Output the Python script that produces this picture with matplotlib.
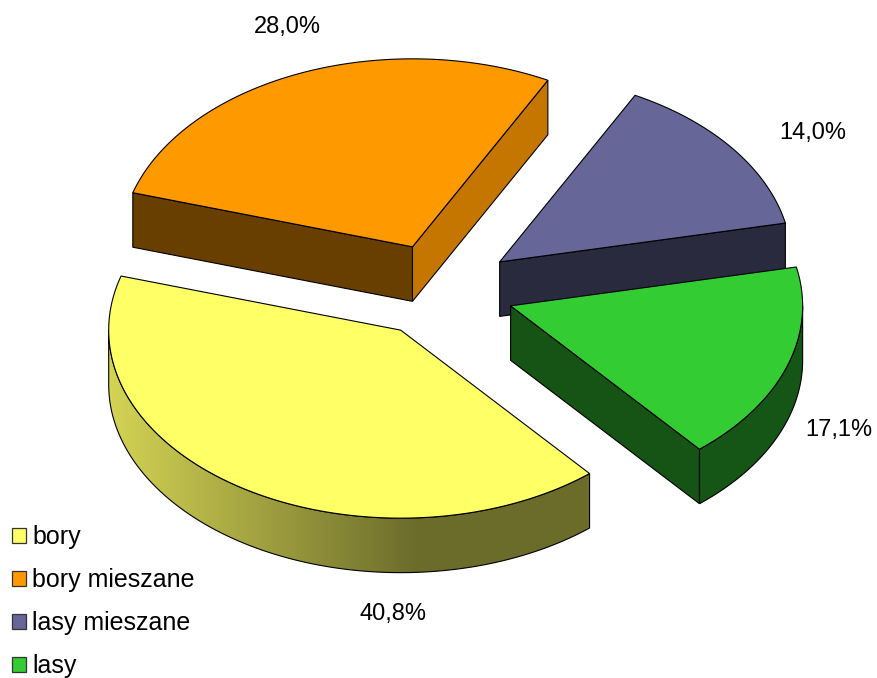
import numpy as np
import matplotlib
matplotlib.use("Agg")
import matplotlib.pyplot as plt
from matplotlib.patches import Polygon, Rectangle

plt.rcParams["font.family"] = ["Liberation Sans", "DejaVu Sans"]

labels = ["bory", "bory mieszane", "lasy mieszane", "lasy"]
values = [40.8, 28.0, 14.0, 17.1]
colors = ["#FFFF66", "#FF9900", "#666699", "#33CC33"]

# layout of the 3d pie (pixels)
CX, CY = 441, 290.5
A, B = 292, 188
DEPTH = 54.5
EXPLODE = 0.252
START = 310.3  # first slice starts here and goes clockwise

label_xy = [(393, 614), (287, 27), (813, 133), (839, 430)]


def shade(color, f):
    rgb = np.array(matplotlib.colors.to_rgb(color))
    return rgb * f


def rim(cx, cy, t0, t1, n=200):
    t = np.radians(np.linspace(t0, t1, n))
    return np.column_stack([cx + A * np.cos(t), cy - B * np.sin(t)])


def wall_ranges(lo, hi):
    out = []
    for k in (-2, -1, 0, 1):
        a0, a1 = max(lo, 180 + 360 * k), min(hi, 360 + 360 * k)
        if a1 > a0:
            out.append((a0, a1))
    return out


def wall_factor(cos_t):
    # light on the left side of the rim, dark towards the front/right
    u = np.clip((0.065 - cos_t) / 1.065, 0, 1)
    return 0.42 + 0.41 * u


fig = plt.figure(figsize=(8.77, 6.78), dpi=100)
ax = fig.add_axes([0, 0, 1, 1])

fracs = np.array(values) / sum(values)
bounds = START - np.concatenate([[0], np.cumsum(fracs)]) * 360

slices = []
for i in range(len(values)):
    hi, lo = bounds[i], bounds[i + 1]
    mid = np.radians((hi + lo) / 2)
    sx = CX + EXPLODE * A * np.cos(mid)
    sy = CY - EXPLODE * B * np.sin(mid)
    slices.append((np.sin(mid), i, lo, hi, sx, sy))

# back slices first
for _, i, lo, hi, sx, sy in sorted(slices, reverse=True):
    col = colors[i]
    down = np.array([0, DEPTH])

    # radial cut faces
    for t, visible, normal in [
        (lo, np.cos(np.radians(lo)) > 0, lo - 90),
        (hi, np.cos(np.radians(hi)) < 0, hi + 90),
    ]:
        if not visible:
            continue
        p = rim(sx, sy, t, t, 1)[0]
        c = np.array([sx, sy])
        f = 0.77 if np.cos(np.radians(normal)) > 0.5 else 0.41
        ax.add_patch(Polygon([c, p, p + down, c + down], closed=True,
                             facecolor=shade(col, f), edgecolor="black", lw=0.8))

    # outer wall with horizontal gradient
    for a0, a1 in wall_ranges(lo, hi):
        top = rim(sx, sy, a0, a1)
        wall = Polygon(np.vstack([top, top[::-1] + down]), closed=True,
                       facecolor="none", edgecolor="none")
        ax.add_patch(wall)
        x0, x1 = top[:, 0].min(), top[:, 0].max()
        y0, y1 = top[:, 1].min(), top[:, 1].max() + DEPTH
        xs = np.linspace(x0, x1, 400)
        cos_t = np.clip((xs - sx) / A, -1, 1)
        grad = np.array([shade(col, f) for f in wall_factor(cos_t)])[None, :, :]
        im = ax.imshow(grad, extent=(x0, x1, y1, y0), aspect="auto",
                       interpolation="bilinear")
        im.set_clip_path(wall)
        ax.add_patch(Polygon(np.vstack([top, top[::-1] + down]), closed=True,
                             facecolor="none", edgecolor="black", lw=0.8))

    # top face
    pts = np.vstack([[sx, sy], rim(sx, sy, lo, hi)])
    ax.add_patch(Polygon(pts, closed=True, facecolor=col, edgecolor="black", lw=0.8))

# percentage labels
for v, (x, y) in zip(values, label_xy):
    ax.text(x, y, f"{v:.1f}%".replace(".", ","), ha="center", va="center",
            fontsize=17, color="black")

# legend
for i, (lab, col) in enumerate(zip(labels, colors)):
    yc = 535.5 + 43 * i
    ax.add_patch(Rectangle((12, yc - 7.5), 14, 15, facecolor=col,
                           edgecolor="#333333", lw=0.9))
    ax.text(32, yc + 1.5, lab, ha="left", va="center", fontsize=18, color="black")

ax.set_xlim(0, 877)
ax.set_ylim(678, 0)
ax.axis("off")

plt.savefig("out.png", dpi=100)
